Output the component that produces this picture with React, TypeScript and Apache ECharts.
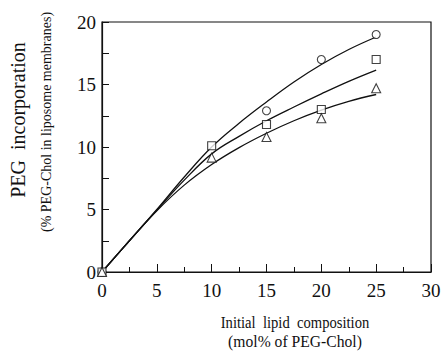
import React, { useEffect, useRef } from "react";
import * as echarts from "echarts";

const circleData: [number, number][] = [[0, 0], [15, 12.9], [20, 17.0], [25, 19.0]];
const squareData: [number, number][] = [[0, 0], [10, 10.1], [15, 11.8], [20, 13.0], [25, 17.0]];
const triangleData: [number, number][] = [[0, 0], [10, 9.15], [15, 10.8], [20, 12.3], [25, 14.7]];
const fitX = [0, 2.5, 5, 7.5, 10, 12.5, 15, 17.5, 20, 22.5, 25];
const fitTop = [0, 2.5, 5.0, 7.6, 10.0, 11.9, 13.6, 15.2, 16.6, 17.8, 18.8];
const fitMid = [0, 2.5, 4.95, 7.35, 9.45, 10.85, 12.1, 13.2, 14.25, 15.25, 16.15];
const fitLow = [0, 2.5, 4.9, 6.95, 8.6, 9.95, 11.1, 12.1, 12.95, 13.65, 14.2];

const FONT = "'Liberation Serif', 'Times New Roman', serif";

export default function App() {
  const ref = useRef<HTMLDivElement>(null);
  useEffect(() => {
    const chart = echarts.init(ref.current!, null, { renderer: "svg" });
    const line = (ys: number[]) => ({
      type: "line",
      data: fitX.map((x, i) => [x, ys[i]]),
      smooth: 0.4,
      symbol: "none",
      lineStyle: { color: "#111", width: 1.3 },
      z: 2,
    });
    const scatter = (data: [number, number][], symbol: string, size: number) => ({
      type: "scatter",
      data,
      symbol,
      symbolSize: size,
      itemStyle: { color: "#fff", borderColor: "#111", borderWidth: 1.1 },
      z: 3,
    });
    chart.setOption({
      animation: false,
      backgroundColor: "#fff",
      grid: { left: 102, right: 13, top: 22, bottom: 89, show: true, borderColor: "#111", borderWidth: 1.2 },
      xAxis: {
        type: "value",
        min: 0,
        max: 30,
        interval: 5,
        axisLine: { show: true, lineStyle: { color: "#111", width: 1.2 } },
        axisTick: { show: true, inside: true, length: 8, lineStyle: { color: "#111" } },
        minorTick: { show: true, splitNumber: 2, length: 5, lineStyle: { color: "#111" } },
        splitLine: { show: false },
        axisLabel: { fontFamily: FONT, fontSize: 19, color: "#111", margin: 9 },
      },
      yAxis: {
        type: "value",
        min: 0,
        max: 20,
        interval: 5,
        axisLine: { show: true, lineStyle: { color: "#111", width: 1.2 } },
        axisTick: { show: true, inside: true, length: 7, lineStyle: { color: "#111" } },
        minorTick: { show: true, splitNumber: 2, length: 7, lineStyle: { color: "#111" } },
        splitLine: { show: false },
        axisLabel: { fontFamily: FONT, fontSize: 19, color: "#111", margin: 6 },
      },
      graphic: [
        {
          type: "text",
          x: 18,
          y: 120,
          rotation: Math.PI / 2,
          style: { text: "PEG  incorporation", fontFamily: FONT, fontSize: 20, fill: "#111", align: "center", verticalAlign: "middle" },
        },
        {
          type: "text",
          x: 46,
          y: 122,
          rotation: Math.PI / 2,
          style: { text: "(% PEG-Chol in liposome membranes)", fontFamily: FONT, fontSize: 14, fill: "#111", align: "center", verticalAlign: "middle" },
        },
        {
          type: "text",
          x: 295,
          y: 322,
          scaleX: 0.86,
          style: { text: "Initial  lipid  composition", fontFamily: FONT, fontSize: 17, fill: "#111", align: "center", verticalAlign: "middle" },
        },
        {
          type: "text",
          x: 295,
          y: 341,
          scaleX: 0.92,
          style: { text: "(mol% of PEG-Chol)", fontFamily: FONT, fontSize: 17, fill: "#111", align: "center", verticalAlign: "middle" },
        },
      ],
      series: [
        line(fitTop),
        line(fitMid),
        line(fitLow),
        scatter(circleData, "circle", 8),
        scatter(squareData, "rect", 8),
        scatter(triangleData, "triangle", 9),
      ],
    });
    return () => chart.dispose();
  }, []);
  return <div ref={ref} style={{ width: 444, height: 361, position: "absolute", left: 0, top: 0 }} />;
}
